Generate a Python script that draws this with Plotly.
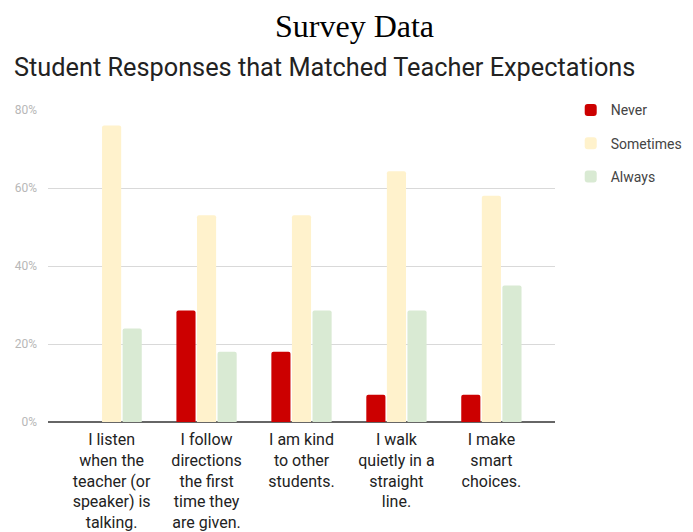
import plotly.graph_objects as go

categories = [
    "I listen<br>when the<br>teacher (or<br>speaker) is<br>talking.",
    "I follow<br>directions<br>the first<br>time they<br>are given.",
    "I am kind<br>to other<br>students.",
    "I walk<br>quietly in a<br>straight<br>line.",
    "I make<br>smart<br>choices.",
]
never = [0, 28.6, 18, 7, 7]
sometimes = [76, 53, 53, 64.3, 58]
always = [24, 18, 28.6, 28.6, 35]
yticks = [0, 20, 40, 60, 80]
yticklabels = ["0%", "20%", "40%", "60%", "80%"]

series = [("Never", never, "#cc0000"), ("Sometimes", sometimes, "#fff2cc"), ("Always", always, "#d9ead3")]

fig = go.Figure()
for name, vals, col in series:
    fig.add_trace(go.Bar(
        x=list(range(len(categories))), y=vals, name=name, legendgroup=name,
        marker=dict(color=col, line=dict(width=0), cornerradius=2),
    ))

fig.update_layout(
    width=693, height=532,
    margin=dict(l=40, r=146, t=102, b=118, autoexpand=False),
    paper_bgcolor="white", plot_bgcolor="white",
    barmode="group", bargap=0.35, bargroupgap=0.07,
    font=dict(family="Roboto", color="#222222"),
    title=dict(text="Survey Data", x=0.5, xanchor="center", xref="container",
               y=0.966, yanchor="middle", yref="container",
               font=dict(family="Liberation Serif", size=32, color="#000000")),
    annotations=[dict(text="Student Responses that Matched Teacher Expectations",
                      xref="paper", yref="paper", x=-0.071, y=1.135,
                      xanchor="left", yanchor="middle", showarrow=False,
                      font=dict(family="Roboto", size=25.3, color="#222222"))],
    legend=dict(x=1.031, y=1.05, xanchor="left", yanchor="top",
                font=dict(family="Roboto", size=14, color="#444444"),
                tracegroupgap=12, itemsizing="constant"),
    showlegend=True,
)
fig.update_xaxes(
    tickmode="array", tickvals=list(range(len(categories))), ticktext=categories,
    range=[-0.67, 4.67], showgrid=False, showline=False, ticks="", automargin=False,
    tickfont=dict(family="Roboto", size=16, color="#222222"), ticklabelstandoff=6,
)
fig.update_yaxes(
    range=[0, 80], tickmode="array", tickvals=yticks, ticktext=yticklabels,
    showgrid=True, gridcolor="#d9d9d9", gridwidth=1, automargin=False,
    zeroline=True, zerolinecolor="#666666", zerolinewidth=2,
    tickfont=dict(family="Roboto", size=12, color="#b7b7b7"), ticks="", ticklabelstandoff=10,
)

fig.write_html("out.html")
